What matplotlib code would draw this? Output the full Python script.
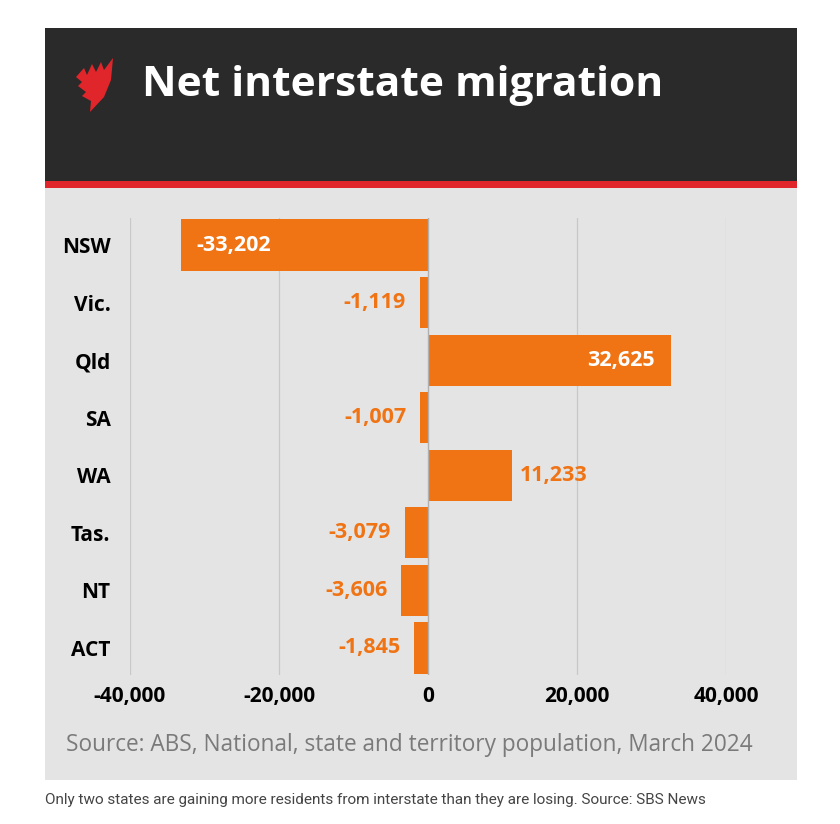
import matplotlib
matplotlib.use("Agg")
import matplotlib.pyplot as plt
from matplotlib.patches import Rectangle, Polygon

states = ["NSW", "Vic.", "Qld", "SA", "WA", "Tas.", "NT", "ACT"]
values = [-33202, -1119, 32625, -1007, 11233, -3079, -3606, -1845]
ticks = [-40000, -20000, 0, 20000, 40000]
tick_labels = ["-40,000", "-20,000", "0", "20,000", "40,000"]
title = "Net interstate migration"
source = "Source: ABS, National, state and territory population, March 2024"
caption = "Only two states are gaining more residents from interstate than they are losing. Source: SBS News"

W, H = 840, 824
ORANGE = "#f07314"
BG = "#e4e4e4"
DARK = "#2a2a2a"
RED = "#e0262b"

fig = plt.figure(figsize=(W / 100, H / 100), dpi=100)
fig.patch.set_facecolor("white")

def fx(x):
    return x / W

def fy(y):
    return 1 - y / H

# panel backgrounds
for (x0, y0, w, h, c) in [(45, 188, 752, 592, BG), (45, 28, 752, 153, DARK), (45, 181, 752, 7, RED)]:
    fig.patches.append(Rectangle((fx(x0), fy(y0 + h)), w / W, h / H,
                                 transform=fig.transFigure, facecolor=c, edgecolor="none", zorder=-5))

# logo
logo_px = [(113, 58), (111, 80), (104, 97), (90, 112), (91, 101), (82, 96), (86, 92),
           (78, 86), (82, 82), (76, 77), (84, 68), (87, 75), (92, 64), (96, 72),
           (101, 62), (104, 70)]
fig.patches.append(Polygon([(fx(x), fy(y)) for x, y in logo_px], closed=True,
                           transform=fig.transFigure, facecolor=RED, edgecolor="none", zorder=-4))

fig.text(fx(142), fy(86), title, color="white", fontsize=30.6, fontweight="bold",
         family="Open Sans", va="center", ha="left")

# axes
ax = fig.add_axes([fx(130), fy(675), (726 - 130) / W, (675 - 218) / H])
ax.set_zorder(5)
ax.set_facecolor("none")
ax.set_xlim(-40000, 40000)
ax.set_ylim(len(states) - 0.53, -0.47)
for s in ax.spines.values():
    s.set_visible(False)

for t in ticks:
    if t != 0:
        ax.axvline(t, color="#c8c8c8", lw=0.9, zorder=0)
ax.axvline(0, color="#b0b0b0", lw=1, zorder=3)

ypos = list(range(len(states)))
ax.barh(ypos, values, height=0.89, color=ORANGE, zorder=2)

ax.set_yticks(ypos)
ax.set_yticklabels(states, fontsize=15, fontweight="bold", family="Open Sans", color="black")
ax.set_xticks(ticks)
ax.set_xticklabels(tick_labels, fontsize=15, fontweight="bold", family="Open Sans", color="black")
ax.tick_params(length=0, axis="y", pad=14)
ax.tick_params(length=0, axis="x", pad=8)

max_abs = max(abs(v) for v in values)
for y, v in zip(ypos, values):
    lab = f"{v:,}"
    if abs(v) > 0.6 * max_abs:
        off = -16 if v > 0 else 16
        ha = "right" if v > 0 else "left"
        ax.annotate(lab, (v, y), xytext=(off, 0), textcoords="offset pixels",
                    ha=ha, va="center", color="white", fontsize=15.5, fontweight="bold",
                    family="Open Sans", zorder=4)
    else:
        off = 8 if v > 0 else -14
        ha = "left" if v > 0 else "right"
        ax.annotate(lab, (v, y), xytext=(off, 0), textcoords="offset pixels",
                    ha=ha, va="center", color=ORANGE, fontsize=15.5, fontweight="bold",
                    family="Open Sans", zorder=4)

fig.text(fx(66), fy(745), source, color="#7a7a7a", fontsize=16.3, family="Open Sans",
         va="center", ha="left")
fig.text(fx(45), fy(800), caption, color="#444444", fontsize=11, family="Roboto",
         va="center", ha="left")

fig.savefig("out.png", dpi=100, facecolor="white")
